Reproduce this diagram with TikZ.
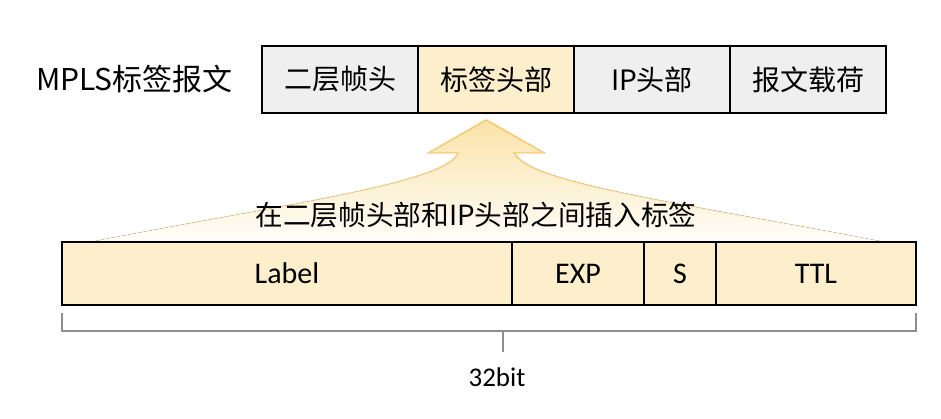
\documentclass[tikz,border=0pt]{standalone}
\usepackage{fontspec}
\setmainfont{Carlito}
\newfontfamily\cjk{Noto Sans CJK SC}
\usetikzlibrary{positioning,fadings}
\definecolor{cellgray}{HTML}{EFEFEF}
\definecolor{cellyel}{HTML}{FDEFCC}
\definecolor{arrowfill}{HTML}{FBE3A8}
\definecolor{arrowline}{HTML}{F8CB6C}
\definecolor{brkgray}{HTML}{8E8E8E}

\begin{document}
\begin{tikzpicture}[x=1pt,y=-1pt,
        cell/.style={draw, line width=2.2pt, outer sep=0pt, inner sep=0pt,
            minimum width=156pt, minimum height=67pt, fill=cellgray,
            font=\cjk\fontsize{28}{30}\selectfont},
        field/.style={draw, line width=1.1pt, outer sep=0pt, inner sep=0pt,
            minimum height=63pt, fill=cellyel,
            font=\fontsize{30}{34}\selectfont},
        brk/.style={draw=brkgray, line width=1.8pt}]
        \useasboundingbox (0,0) rectangle (941,419);
        \fill[white] (0,0) rectangle (941,419);

        \fill[top color=arrowfill, bottom color=white]
            (487,120) -- (545,153) -- (515,153)
            .. controls (530,185) and (700,205) .. (915,248) -- (60,248)
            .. controls (274,205) and (444,185) .. (459,153) -- (429,153) -- cycle;
        \draw[arrowline, line width=1.5pt, path fading=south]
            (60,248) .. controls (274,205) and (444,185) .. (459,153)
            -- (429,153) -- (487,120) -- (545,153) -- (515,153)
            .. controls (530,185) and (700,205) .. (915,248);

        \node[cell, anchor=north west] (a) at (262,46) {二层帧头};
        \node[cell, fill=cellyel, right=0pt of a] (b) {标签头部};
        \node[cell, right=0pt of b] (c) {IP头部};
        \node[cell, right=0pt of c] (d) {报文载荷};
        \node[left=29pt of a, inner sep=0pt, font=\cjk\fontsize{30}{32}\selectfont] (t) {MPLS标签报文};

        \node[font=\cjk\fontsize{27.7}{30}\selectfont] (s) at (476,215) {在二层帧头部和IP头部之间插入标签};

        \node[field, minimum width=450pt, anchor=north west] (e) at (62,242) {Label};
        \node[field, minimum width=132pt, right=0pt of e] (f) {EXP};
        \node[field, minimum width=72pt, right=0pt of f] (g) {S};
        \node[field, minimum width=200pt, right=0pt of g] (h) {TTL};
        \draw[line width=1.8pt] (e.north west) rectangle (h.south east);

        \coordinate (m) at (503,331);
        \coordinate (n) at (503,352);
        \draw[brk] ([yshift=-8pt]e.south west) -- ([yshift=-26pt]e.south west)
            -- ([yshift=-26pt]h.south east) -- ([yshift=-8pt]h.south east);
        \draw[brk] (m) -- (n);
        \node[font=\fontsize{27}{30}\selectfont] (k) at (497,377) {32bit};
\end{tikzpicture}
\end{document}
